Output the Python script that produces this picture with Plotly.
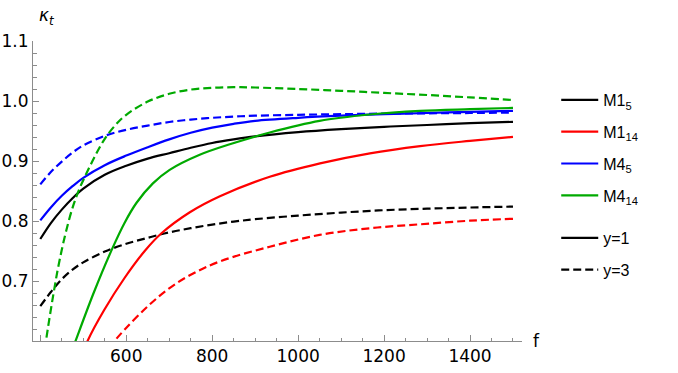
import plotly.graph_objects as go

# ---------------- data ----------------
f_m15_y1 = [400, 425, 450, 475, 500, 550, 600, 650, 700, 750, 800, 850, 900, 1000, 1100, 1200, 1300, 1400, 1500]
k_m15_y1 = [0.770, 0.797, 0.819, 0.838, 0.854, 0.877, 0.892, 0.904, 0.913, 0.922, 0.930, 0.936, 0.941, 0.948, 0.953, 0.957, 0.960, 0.963, 0.9653]

f_m15_y3 = [400, 425, 450, 475, 500, 550, 600, 650, 700, 750, 800, 850, 900, 1000, 1100, 1200, 1300, 1400, 1500]
k_m15_y3 = [0.658, 0.682, 0.703, 0.719, 0.731, 0.749, 0.762, 0.772, 0.781, 0.788, 0.794, 0.799, 0.803, 0.809, 0.814, 0.818, 0.8205, 0.8225, 0.824]

f_m114_y1 = [490, 510, 549, 596, 643, 682, 748, 818, 934, 1051, 1167, 1284, 1400, 1500]
k_m114_y1 = [0.562, 0.600, 0.652, 0.705, 0.750, 0.7795, 0.8146, 0.8413, 0.8737, 0.896, 0.9127, 0.9248, 0.9336, 0.9403]

f_m114_y3 = [540, 570, 597, 650, 700, 750, 818, 934, 1050, 1167, 1284, 1400, 1500]
k_m114_y3 = [0.574, 0.598, 0.6196, 0.6578, 0.6878, 0.7103, 0.7327, 0.7571, 0.7768, 0.7879, 0.7945, 0.8005, 0.8037]

f_m45_y1 = [400, 425, 450, 475, 500, 550, 600, 650, 700, 750, 800, 850, 900, 1000, 1100, 1200, 1300, 1400, 1500]
k_m45_y1 = [0.801, 0.823, 0.842, 0.858, 0.872, 0.893, 0.909, 0.923, 0.936, 0.947, 0.9555, 0.962, 0.967, 0.972, 0.9755, 0.978, 0.980, 0.982, 0.9835]

f_m45_y3 = [400, 425, 450, 475, 500, 550, 600, 650, 700, 750, 800, 850, 900, 1000, 1100, 1200, 1300, 1400, 1500]
k_m45_y3 = [0.861, 0.882, 0.899, 0.914, 0.926, 0.942, 0.952, 0.959, 0.965, 0.969, 0.972, 0.974, 0.9755, 0.977, 0.978, 0.979, 0.9795, 0.980, 0.9807]

f_m414_y1 = [460, 482, 525, 568, 596, 624, 662, 701, 771, 841, 934, 1050, 1167, 1284, 1400, 1500]
k_m414_y1 = [0.557, 0.600, 0.6817, 0.7548, 0.7968, 0.8304, 0.8627, 0.8853, 0.9105, 0.928, 0.9475, 0.9669, 0.9775, 0.9835, 0.9864, 0.9885]

f_m414_y3 = [400, 410, 420, 430, 440, 450, 460, 475, 490, 500, 525, 550, 575, 600, 650, 700, 750, 800, 850, 900, 1000, 1100, 1200, 1300, 1400, 1500]
k_m414_y3 = [0.526, 0.584, 0.632, 0.676, 0.717, 0.752, 0.783, 0.822, 0.852, 0.868, 0.905, 0.937, 0.960, 0.977, 0.999, 1.012, 1.019, 1.022, 1.023, 1.0225, 1.020, 1.017, 1.0135, 1.010, 1.006, 1.0016]

model_names = ["M1<sub>5</sub>", "M1<sub>14</sub>", "M4<sub>5</sub>", "M4<sub>14</sub>"]
model_colors = ["#000000", "#ff0000", "#0000ff", "#00aa00"]
y_names = ["y=1", "y=3"]

x_tickvals = [400, 600, 800, 1000, 1200, 1400]
x_ticktext = ["", "600", "800", "1000", "1200", "1400"]
y_tickvals = [0.6, 0.7, 0.8, 0.9, 1.0, 1.1]
y_ticktext = ["", "0.7", "0.8", "0.9", "1.0", "1.1"]

# ---------------- figure ----------------
series = [
    (f_m15_y1, k_m15_y1, 0, "solid"),
    (f_m15_y3, k_m15_y3, 0, "dash"),
    (f_m114_y1, k_m114_y1, 1, "solid"),
    (f_m114_y3, k_m114_y3, 1, "dash"),
    (f_m45_y1, k_m45_y1, 2, "solid"),
    (f_m45_y3, k_m45_y3, 2, "dash"),
    (f_m414_y1, k_m414_y1, 3, "solid"),
    (f_m414_y3, k_m414_y3, 3, "dash"),
]

fig = go.Figure()
for fx, ky, mi, ds in series:
    fig.add_trace(go.Scatter(
        x=fx, y=ky, mode="lines", showlegend=False, hoverinfo="skip",
        line=dict(color=model_colors[mi], width=2.2, shape="spline", smoothing=1.0,
                  dash="8px,4px" if ds == "dash" else "solid"),
    ))

# legend entries: models
for i, (nm, col) in enumerate(zip(model_names, model_colors)):
    fig.add_trace(go.Scatter(
        x=[None], y=[None], mode="lines", name=nm, legend="legend",
        legendgroup=f"m{i}", line=dict(color=col, width=2.2),
    ))
# legend entries: line styles
for i, (nm, ds) in enumerate(zip(y_names, ["solid", "8px,4px"])):
    fig.add_trace(go.Scatter(
        x=[None], y=[None], mode="lines", name=nm, legend="legend2",
        legendgroup=f"y{i}", line=dict(color="#000000", width=2.2, dash=ds),
    ))

axis_col = "#8c8c8c"
tick_font = dict(family="DejaVu Sans", size=17, color="#000000")

fig.update_layout(
    width=678, height=373,
    margin=dict(l=33, r=156, t=41, b=32, autoexpand=False),
    paper_bgcolor="white", plot_bgcolor="white",
    xaxis=dict(
        range=[383, 1521], showgrid=False, zeroline=False, automargin=False,
        showline=True, linecolor=axis_col, linewidth=1,
        tickmode="array", tickvals=x_tickvals, ticktext=x_ticktext,
        ticks="inside", ticklen=6, tickcolor=axis_col, tickwidth=1,
        minor=dict(dtick=50, tick0=0, ticks="inside", ticklen=3.5, tickcolor=axis_col, showgrid=False),
        tickfont=tick_font,
    ),
    yaxis=dict(
        range=[0.6, 1.1], showgrid=False, zeroline=False, automargin=False,
        showline=True, linecolor=axis_col, linewidth=1,
        tickmode="array", tickvals=y_tickvals, ticktext=y_ticktext,
        ticks="inside", ticklen=6, tickcolor=axis_col, tickwidth=1,
        minor=dict(dtick=0.02, tick0=0, ticks="inside", ticklen=3.5, tickcolor=axis_col, showgrid=False),
        tickfont=tick_font,
    ),
    legend=dict(
        x=1.07, y=0.86, xanchor="left", yanchor="top", itemwidth=37,
        font=dict(family="Liberation Sans", size=16, color="#000000"),
        tracegroupgap=8, bgcolor="rgba(0,0,0,0)",
    ),
    legend2=dict(
        x=1.07, y=0.40, xanchor="left", yanchor="top", itemwidth=37,
        font=dict(family="Liberation Sans", size=16, color="#000000"),
        tracegroupgap=8, bgcolor="rgba(0,0,0,0)",
    ),
    annotations=[
        dict(text="<i>κ</i><sub><i>t</i></sub>", xref="paper", yref="paper",
             x=0.008, y=1.08, xanchor="left", yanchor="middle", showarrow=False,
             font=dict(family="DejaVu Sans", size=17, color="#000000")),
        dict(text="f", xref="paper", yref="paper",
             x=1.029, y=0.0, xanchor="center", yanchor="middle", showarrow=False,
             font=dict(family="DejaVu Sans", size=17, color="#000000")),
    ],
)

fig.write_html("out.html")
